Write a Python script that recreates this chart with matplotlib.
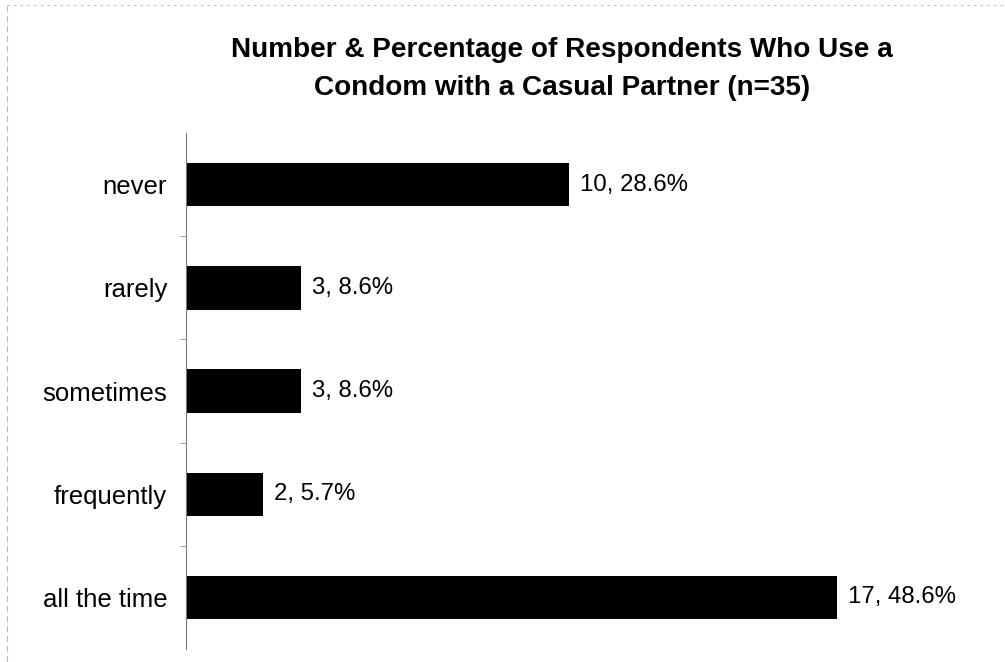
import matplotlib
matplotlib.use("Agg")
import matplotlib.pyplot as plt
from matplotlib.lines import Line2D

categories = ["never", "rarely", "sometimes", "frequently", "all the time"]
counts = [10, 3, 3, 2, 17]
percents = [28.6, 8.6, 8.6, 5.7, 48.6]

plt.rcParams['font.family'] = ['Liberation Sans', 'DejaVu Sans']

fig = plt.figure(figsize=(10.05, 6.62), dpi=100)
ax = fig.add_axes([0.185, 0.0196, 0.762, 0.7794])

y = list(range(len(categories)))
ax.barh(y, counts, height=0.42, color='black')
ax.set_ylim(len(categories) - 0.5, -0.5)
ax.set_xlim(0, 20)
ax.set_yticks(y)
ax.set_yticklabels(categories, fontsize=18.5)
ax.tick_params(axis='y', length=0, pad=13.5)
ax.set_yticks([i + 0.5 for i in range(len(categories) - 1)], minor=True)
ax.tick_params(axis='y', which='minor', length=4, width=0.6, color='#888888')
ax.set_xticks([])
for s in ['top', 'right', 'bottom']:
    ax.spines[s].set_visible(False)
ax.spines['left'].set_color('#777777')
ax.spines['left'].set_linewidth(0.8)

for yi, c, p in zip(y, counts, percents):
    ax.text(c + 0.3, yi, f"{c}, {p}%", va='center', ha='left', fontsize=17.3)

fig.text(0.559, 0.896, "Number & Percentage of Respondents Who Use a\nCondom with a Casual Partner (n=35)",
         ha='center', va='center', fontsize=20.1, fontweight='bold', linespacing=1.6)

fig.add_artist(Line2D([0.007, 1.0], [0.992, 0.992], transform=fig.transFigure,
                      color='#bbbbbb', lw=0.8, ls=(0, (2, 4))))
fig.add_artist(Line2D([0.007, 0.007], [0.0, 0.992], transform=fig.transFigure,
                      color='#bbbbbb', lw=0.8, ls=(0, (6, 3))))

fig.savefig("out.png", dpi=100)
